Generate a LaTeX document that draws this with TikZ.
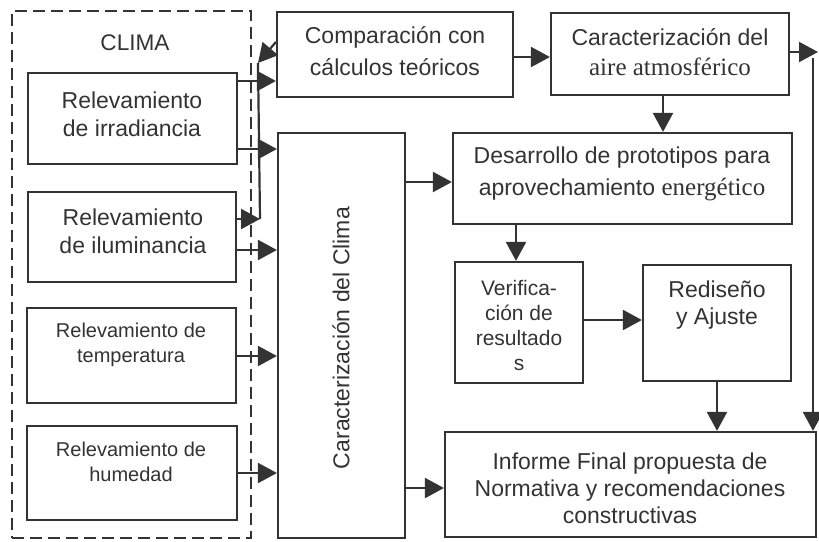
\documentclass[tikz,border=0pt]{standalone}
\usepackage{fontspec}
\setmainfont{Liberation Sans}
\newfontfamily\serfam{Liberation Serif}
\usetikzlibrary{arrows.meta}
\definecolor{ink}{HTML}{333333}
\begin{document}
\begin{tikzpicture}[x=0.5pt,y=-0.5pt,
  box/.style={draw=ink,line width=1.1pt,inner sep=0pt},
  dbox/.style={draw=ink,line width=1.1pt,dash pattern=on 6pt off 3pt,inner sep=0pt},
  txt/.style={text=ink,align=center,inner sep=0pt,font=\fontsize{11.5}{14}\selectfont},
  smalltxt/.style={txt,font=\fontsize{10}{12.5}\selectfont},
  line/.style={draw=ink,line width=1.1pt},
  arr/.style={line,-{Triangle[length=9.5pt,width=10pt]}}]
\useasboundingbox (0,0) rectangle (819,541);
% boxes
\node[dbox,minimum width=119.5pt,minimum height=263.5pt] (climabox) at (131.5,274.5) {};
\node[box,minimum width=104.5pt,minimum height=45.5pt] (irr) at (132.5,118.5) {};
\node[box,minimum width=104pt,minimum height=45pt] (ilu) at (132,237) {};
\node[box,minimum width=104.5pt,minimum height=47.5pt] (tem) at (131.5,355.5) {};
\node[box,minimum width=105pt,minimum height=47pt] (hum) at (132,473) {};
\node[box,minimum width=118pt,minimum height=42.5pt] (cmp) at (395,54.5) {};
\node[box,minimum width=119pt,minimum height=41pt] (aire) at (670,54) {};
\node[box,minimum width=63.5pt,minimum height=202.5pt] (cc) at (341.5,335.5) {};
\node[box,minimum width=169.5pt,minimum height=45.5pt] (des) at (622.5,178.5) {};
\node[box,minimum width=64pt,minimum height=60.5pt] (ver) at (519,322.5) {};
\node[box,minimum width=74pt,minimum height=58pt] (red) at (717,323) {};
\node[box,minimum width=185.5pt,minimum height=52.5pt] (inf) at (630.5,484.5) {};
% texts
\node[txt,font=\fontsize{11.3}{13}\selectfont] (climat) at (135,43) {CLIMA};
\node[txt] (irrt) at (132,114) {Relevamiento\\de irradiancia};
\node[txt] (ilut) at (133,231) {Relevamiento\\de iluminancia};
\node[smalltxt] (temt) at (131,345) {Relevamiento de\\temperatura};
\node[smalltxt] (humt) at (131,462) {Relevamiento de\\humedad};
\node[txt,font=\fontsize{11.5}{16}\selectfont] (cmpt) at (395,51) {Comparación con\\cálculos teóricos};
\node[txt,font=\fontsize{11.5}{15}\selectfont] (airet) at (670,52) {Caracterización del\\{\serfam\fontsize{12.5}{15}\selectfont aire atmosférico}};
\node[txt,rotate=90] (cct) at (341,338) {Caracterización del Clima};
\node[txt,font=\fontsize{11.5}{16}\selectfont] (dest) at (622,174) {Desarrollo de prototipos para\\aprovechamiento {\serfam\fontsize{12.5}{16}\selectfont energético}};
\node[smalltxt,font=\fontsize{10.5}{12.5}\selectfont] (vert) at (519,325) {Verifica-\\ción de\\resultado\\s};
\node[txt,font=\fontsize{11.5}{13.5}\selectfont] (redt) at (717,305) {Rediseño\\y Ajuste};
\node[txt,font=\fontsize{11.5}{13.5}\selectfont] (inft) at (630,488) {Informe Final propuesta de\\Normativa y recomendaciones\\constructivas};
% connectors from the climate boxes
\draw[arr] (irr.east |- 0,81) -- (cmp.west |- 0,81);
\draw[arr] (irr.east |- 0,149) -- (cc.west |- 0,149);
\coordinate (jb) at (260,219);
\coordinate (jt) at (258,63);
\draw[arr] (ilu.east |- jb) -- (jb);
\draw[line] (jb) -- (jt);
\draw[arr] (cmp.west |- 0,42) -- (jt);
\draw[arr] (ilu.east |- 0,250) -- (cc.west |- 0,250);
\draw[arr] (tem.east |- 0,356) -- (cc.west |- 0,356);
\draw[arr] (hum.east |- 0,473) -- (cc.west |- 0,473);
% main flow
\draw[arr] (cmp.east |- 0,57) -- (aire.west |- 0,57);
\draw[arr] (aire.south -| 663,0) -- (des.north -| 663,0);
\coordinate (rt) at (818,52);
\draw[arr] (aire.east |- rt) -- (rt);
\coordinate (rv) at (813,58);
\draw[arr] (rv) -- (inf.north -| rv);
\draw[arr] (cc.east |- 0,182) -- (des.west |- 0,182);
\draw[arr] (cc.east |- 0,488) -- (inf.west |- 0,488);
\draw[arr] (des.south -| 516,0) -- (ver.north -| 516,0);
\draw[arr] (ver.east |- 0,320) -- (red.west |- 0,320);
\draw[arr] (red.south -| 717,0) -- (inf.north -| 717,0);
\end{tikzpicture}
\end{document}
